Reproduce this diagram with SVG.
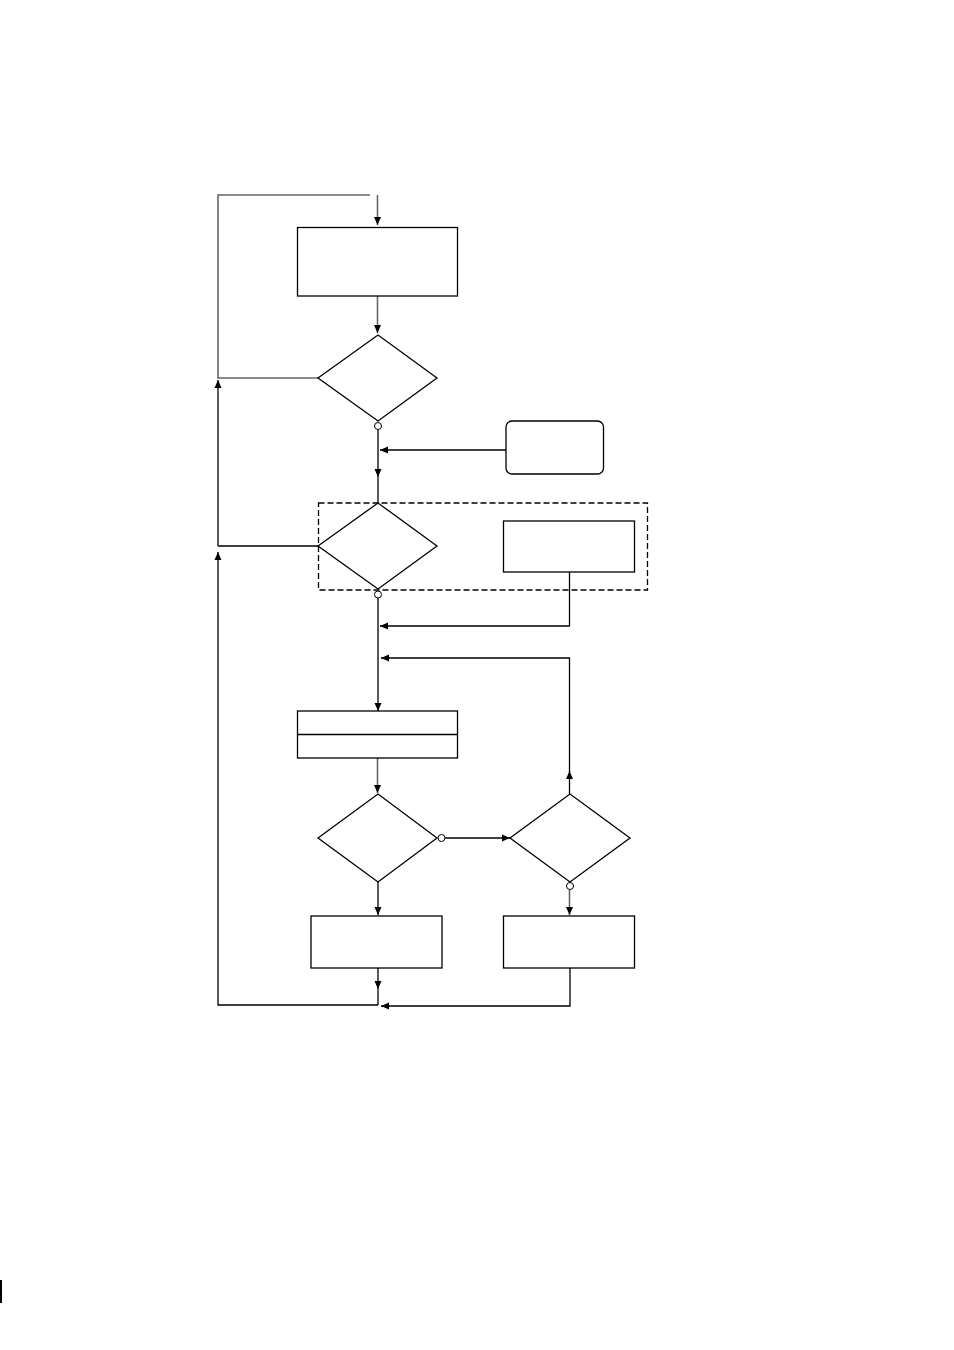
<svg xmlns="http://www.w3.org/2000/svg" width="954" height="1350" viewBox="0 0 954 1350">
<defs>
<style>
.n{fill:#fff;stroke:#000;stroke-width:1.3}
.c{fill:none;stroke:#000;stroke-width:1.3}
.g{fill:none;stroke:#666;stroke-width:1.6}
.o{fill:#fff;stroke:#000;stroke-width:1}
</style>
<marker id="a" viewBox="0 0 8 8" refX="8" refY="4" markerWidth="8" markerHeight="8" markerUnits="userSpaceOnUse" orient="auto">
<path d="M0,0.5 L8,4 L0,7.5 Z" fill="#000"/>
</marker>
</defs>
<rect width="954" height="1350" fill="#fff"/>
<g id="connectors">
<polyline class="g" points="318,378 218,378 218,195 370,195"/>
<line class="g" x1="377.5" y1="195" x2="377.5" y2="225" marker-end="url(#a)"/>
<line class="g" x1="377.5" y1="296" x2="377.5" y2="333" marker-end="url(#a)"/>
<line class="c" x1="378" y1="430" x2="378" y2="477" marker-end="url(#a)"/>
<line class="c" x1="378" y1="477" x2="378" y2="503"/>
<line class="c" x1="506" y1="450" x2="380" y2="450" marker-end="url(#a)"/>
<polyline class="c" points="318,546 218,546"/>
<line class="c" x1="218" y1="546" x2="218" y2="380" marker-end="url(#a)"/>
<line class="c" x1="378" y1="598" x2="378" y2="711" marker-end="url(#a)"/>
<polyline class="c" points="569.5,572 569.5,626 380,626" marker-end="url(#a)"/>
<polyline class="c" points="569.5,772 569.5,658 381,658" marker-end="url(#a)"/>
<line class="c" x1="569.5" y1="794" x2="569.5" y2="771" marker-end="url(#a)"/>
<line class="g" x1="377.5" y1="758" x2="377.5" y2="793" marker-end="url(#a)"/>
<line class="c" x1="445" y1="838" x2="510" y2="838" marker-end="url(#a)"/>
<line class="c" x1="378" y1="882" x2="378" y2="915" marker-end="url(#a)"/>
<line class="g" x1="569.5" y1="890" x2="569.5" y2="915" marker-end="url(#a)"/>
<line class="c" x1="378" y1="968" x2="378" y2="989" marker-end="url(#a)"/>
<line class="c" x1="378" y1="989" x2="378" y2="1005"/>
<polyline class="c" points="570,968 570,1006 381,1006" marker-end="url(#a)"/>
<polyline class="c" points="378,1005 218,1005 218,552" marker-end="url(#a)"/>
</g>
<g id="box1"><rect class="n" x="297.5" y="227.5" width="160" height="68.5"/></g>
<g id="dec1"><polygon class="n" points="318,378 378,335 437,378 378,421"/><circle class="o" cx="378" cy="426" r="3.5"/></g>
<g id="term1"><rect class="n" x="506" y="421" width="97.5" height="53" rx="6"/></g>
<g id="group1"><rect x="318.5" y="503" width="329" height="87" fill="none" stroke="#000" stroke-width="1.3" stroke-dasharray="6,3"/></g>
<g id="dec2"><polygon class="n" points="318,546 378,503 437,546 378,589"/><circle class="o" cx="378" cy="594.5" r="3.5"/></g>
<g id="box2"><rect class="n" x="503.5" y="521" width="131" height="51"/></g>
<g id="box3"><rect class="n" x="297.5" y="711" width="160" height="47"/><line class="c" x1="297.5" y1="734.5" x2="457.5" y2="734.5"/></g>
<g id="dec3"><polygon class="n" points="318,838 378,794 437,838 378,882"/><circle class="o" cx="441.5" cy="838" r="3.5"/></g>
<g id="dec4"><polygon class="n" points="510,838 570,794 630,838 570,882"/><circle class="o" cx="570" cy="886" r="3.5"/></g>
<g id="box4"><rect class="n" x="311" y="916" width="131" height="52"/></g>
<g id="box5"><rect class="n" x="503.5" y="916" width="131" height="52"/></g>
<line x1="1" y1="1280" x2="1" y2="1303" stroke="#000" stroke-width="2"/>
</svg>
